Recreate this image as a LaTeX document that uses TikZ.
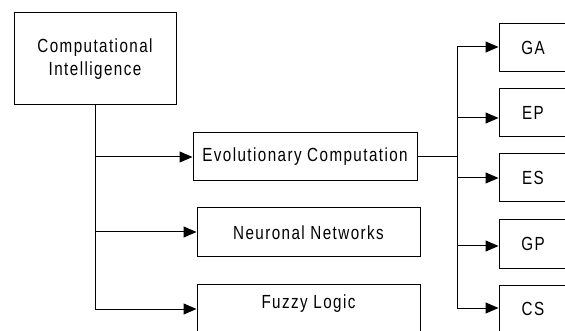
\documentclass[tikz,border=0pt]{standalone}
\usepackage{fontspec}
\setmainfont{Liberation Sans}[FakeStretch=0.8,LetterSpace=7.5]
\usetikzlibrary{arrows.meta}

\begin{document}
\begin{tikzpicture}[x=1pt, y=-1pt, line width=1pt,
  box/.style={draw, rectangle, inner sep=0pt, align=center},
  arr/.style={-{Triangle[length=13pt,width=11pt]}}]
\fontsize{19}{23}\selectfont
\useasboundingbox (0,0) rectangle (565,331);
\clip (0,0) rectangle (565,331);
\def \bus {457} % x of the right bus

\node[box, minimum width=162, minimum height=92] (ci) at (95,59) {Computational\\Intelligence};
\node[box, minimum width=224, minimum height=48] (ec) at (305,157) {Evolutionary Computation};
\node[box, minimum width=223, minimum height=49] (nn) at (308.5,232.5) {Neuronal Networks};
\node[box, minimum width=223, anchor=north, text height=14pt, text depth=30pt, inner ysep=10pt] (fl) at (308.5,284) {Fuzzy Logic};

% left trunk
\coordinate (t1) at (95,157);
\coordinate (t2) at (95,232);
\coordinate (t3) at (95,309);
\draw (ci.south) -- (t3);
\draw[arr] (t1) -- (ec.west);
\draw[arr] (t2) -- (t2 -| nn.west);
\draw[arr] (t3) -- (t3 -| fl.west);

% right bus
\coordinate (j) at (\bus,157);
\draw (ec.east) -- (j);
\foreach \name/\lbl/\yc/\ya in {ga/GA/48/47, ep/EP/113/118, es/ES/178/178, gp/GP/244/246, cs/CS/309/308}
{
	\node[box, minimum width=68, minimum height=48] (\name) at (533,\yc) {\lbl};
	\coordinate (b\name) at (\bus,\ya);
	\draw[arr] (b\name) -- (b\name -| \name.west);
}
\draw (bga) -- (bcs);
\end{tikzpicture}
\end{document}
